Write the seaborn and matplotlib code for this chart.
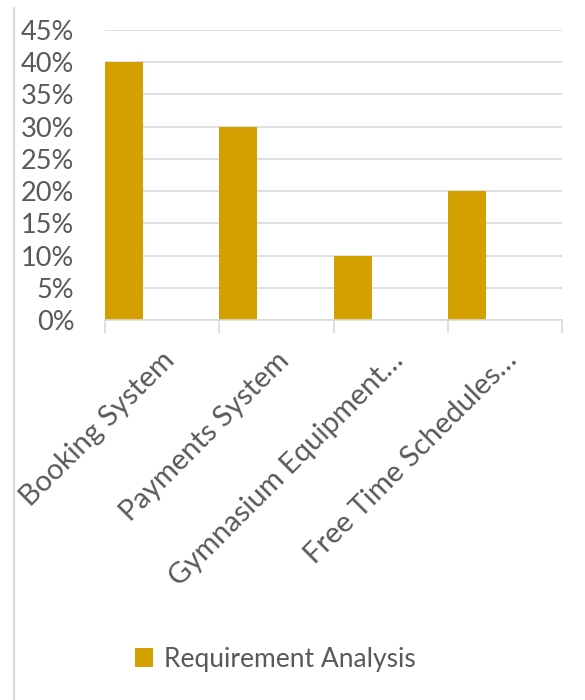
import matplotlib
matplotlib.use("Agg")
import matplotlib.pyplot as plt
import matplotlib.transforms as mtransforms
import seaborn as sns
import numpy as np
import pandas as pd
from matplotlib.lines import Line2D
from matplotlib.ticker import FixedLocator, FuncFormatter
from matplotlib.patches import Patch

categories = ["Booking System", "Payments System", "Gymnasium Equipment…", "Free Time Schedules…"]
values = [0.40, 0.30, 0.10, 0.20]
series_name = "Requirement Analysis"
yticks = [0, 0.05, 0.10, 0.15, 0.20, 0.25, 0.30, 0.35, 0.40, 0.45]

bar_color = "#D4A000"
text_color = "#595959"
grid_color = "#D9D9D9"

sns.set_theme(style="white")
plt.rcParams["font.family"] = ["Lato", "DejaVu Sans"]

fig = plt.figure(figsize=(5.85, 7.0), dpi=100)
ax = fig.add_axes([105/585, 1-320/700, (562-105)/585, (320-30)/700])

df = pd.DataFrame({"cat": categories, "val": values})
sns.barplot(data=df, x="cat", y="val", color=bar_color, width=1/3, ax=ax,
            saturation=1, edgecolor="none")

n = len(categories)
ax.set_xlim(-1/6, n - 1/6)
ax.set_ylim(0, 0.45)
ax.set_yticks(yticks)
ax.yaxis.set_major_formatter(FuncFormatter(lambda v, p: f"{round(v*100)}%"))
ax.yaxis.grid(True, color=grid_color, linewidth=1.2)
ax.set_axisbelow(True)
for s in ["top", "right", "left"]:
    ax.spines[s].set_visible(False)
ax.spines["bottom"].set_color(grid_color)
ax.spines["bottom"].set_linewidth(1.2)

centers = np.arange(n) + 1/3
ax.xaxis.set_major_locator(FixedLocator(centers))
ax.set_xticklabels(categories, rotation=45, ha="right", va="baseline",
                   rotation_mode="anchor", fontsize=21, color=text_color)
ax.xaxis.set_minor_locator(FixedLocator(np.arange(n + 1) - 1/6))
ax.tick_params(axis="x", which="major", length=0, pad=0)
ax.tick_params(axis="x", which="minor", bottom=True, length=9, width=1.2, color=grid_color)
offset = mtransforms.ScaledTranslation(14/100, -42/100, fig.dpi_scale_trans)
for lbl in ax.get_xticklabels():
    lbl.set_transform(lbl.get_transform() + offset)
ax.tick_params(axis="y", length=0, pad=22, labelsize=19.5, labelcolor=text_color)
ax.set_xlabel("")
ax.set_ylabel("")

fig.add_artist(Line2D([14/585, 14/585], [0, 1-8/700], color=grid_color, linewidth=1.5,
                      transform=fig.transFigure))

handle = Patch(facecolor=bar_color, edgecolor="none")
fig.legend([handle], [series_name], loc="center", bbox_to_anchor=(275/585, 1-659/700),
           frameon=False, fontsize=19, labelcolor=text_color, handlelength=0.7,
           handleheight=0.7, handletextpad=0.4)

fig.savefig("out.png", dpi=100)
